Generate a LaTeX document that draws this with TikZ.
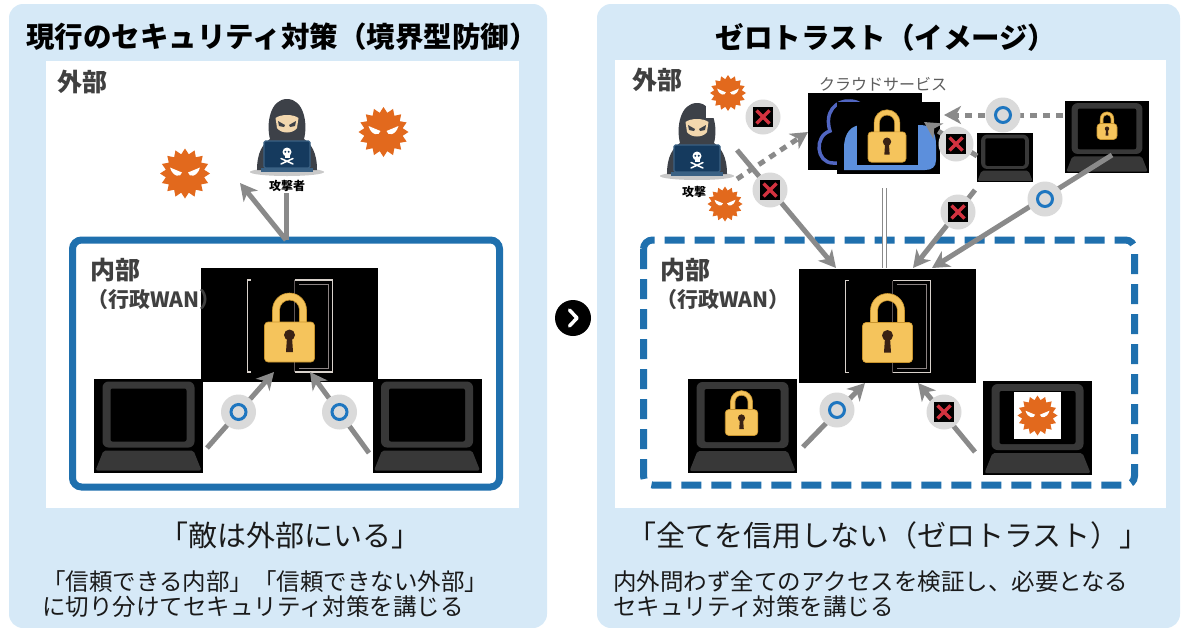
\documentclass[tikz,border=0pt]{standalone}
\usepackage{fontspec}
\newfontfamily\jp{Noto Sans CJK JP}
\usetikzlibrary{arrows.meta}

\definecolor{panelblue}{HTML}{D6E9F7}
\definecolor{boxblue}{HTML}{1F70AE}
\definecolor{arrowgray}{HTML}{8A8A8A}
\definecolor{badgegray}{HTML}{DADADA}
\definecolor{ringblue}{HTML}{1E76C0}
\definecolor{ngred}{HTML}{D3323F}
\definecolor{virusorange}{HTML}{E2691D}
\definecolor{lockyellow}{HTML}{F5C45C}
\definecolor{lockedge}{HTML}{C8942E}
\definecolor{keyhole}{HTML}{3A2214}
\definecolor{lapgray}{HTML}{383838}
\definecolor{hoodgray}{HTML}{3D4148}
\definecolor{skin}{HTML}{F2D7AE}
\definecolor{navy}{HTML}{153A5E}
\definecolor{navyedge}{HTML}{3A6184}
\definecolor{shadowgray}{HTML}{C9C9C9}
\definecolor{cloudblue}{HTML}{5C8FDC}
\definecolor{cloudline}{HTML}{5166C2}
\definecolor{labelgray}{HTML}{404040}
\definecolor{textblack}{HTML}{1A1A1A}
\definecolor{bracketlight}{HTML}{D9D2CC}
\definecolor{bracketdark}{HTML}{5E5656}
\definecolor{bracketmid}{HTML}{8C8484}

\tikzset{
  % notebook computer, 109 x 94
  laptop/.pic={
    \fill[black] (-54.5,-47) rectangle (54.5,47);
    \fill[lapgray, rounded corners=6pt] (-46,-44) rectangle (46,22);
    \fill[black, rounded corners=2pt] (-38,-37) rectangle (38,16);
    \fill[lapgray, rounded corners=2pt] (-45,25) -- (45,25) -- (53,45) -- (-53,45) -- cycle;
  },
  % padlock, origin at the centre of its body
  lockicon/.pic={
    \filldraw[fill=lockyellow, draw=lockedge, line width=0.6pt]
      (-17,-17) -- (-17,-32) arc[start angle=180, end angle=360, radius=17] -- (17,-17)
      -- (10,-17) -- (10,-32) arc[start angle=360, end angle=180, radius=10] -- (-10,-17) -- cycle;
    \filldraw[fill=lockyellow, draw=lockedge, line width=0.6pt, rounded corners=3.5pt]
      (-25,-20) rectangle (25,20);
    \fill[keyhole] (0,-7) circle[radius=5.5];
    \fill[keyhole] (-2.5,-5) -- (2.5,-5) -- (3.5,10) -- (-3.5,10) -- cycle;
  },
  % spiky malware
  virus/.pic={
    \fill[virusorange] plot[samples at={0,...,31}, variable=\k] ({\k*11.25}:{25-5.5*mod(\k,2)}) -- cycle;
    \fill[white] (-15,-6) -- (-3,-1) .. controls (-4,4) and (-12,4) .. cycle;
    \fill[white] (15,-6) -- (3,-1) .. controls (4,4) and (12,4) .. cycle;
  },
  % hooded attacker behind a laptop
  hacker/.pic={
    \fill[shadowgray] (0,16) ellipse[x radius=37, y radius=4];
    \fill[hoodgray] (-30,14) .. controls (-30,-4) and (-24,-12) .. (-17,-17)
      .. controls (-21,-32) and (-17,-57) .. (0,-57)
      .. controls (17,-57) and (21,-32) .. (17,-17)
      .. controls (24,-12) and (30,-4) .. (30,14) -- cycle;
    \fill[skin] (-11.5,-38) .. controls (-6,-42) and (6,-42) .. (11.5,-38) -- (10,-28)
      .. controls (6,-22) and (-6,-22) .. (-10,-28) -- cycle;
    \fill[hoodgray] (-9,-35) -- (-2,-31) -- (-3,-29) -- (-8,-30) -- cycle;
    \fill[hoodgray] (9,-35) -- (2,-31) -- (3,-29) -- (8,-30) -- cycle;
    \filldraw[fill=navy, draw=navyedge, line width=1.2pt, rounded corners=1.5pt] (-23,-15) rectangle (23,12);
    \fill[navyedge] (-26,12) rectangle (26,16);
    \fill[white] (0,-4) circle[radius=4.5];
    \fill[white] (-2.5,-2) rectangle (2.5,1.5);
    \fill[navy] (-1.7,-4.2) circle[radius=1.1] (1.7,-4.2) circle[radius=1.1];
    \draw[white, line width=1.5pt, line cap=round] (-6,2.5) -- (6,8) (-6,8) -- (6,2.5);
  },
  % gateway with padlock, 177 x 114
  lockserver/.pic={
    \fill[black] (-88.5,-57) rectangle (88.5,57);
    \draw[bracketlight, line width=1.3pt] (-39,-45) -- (-42,-45) -- (-42,47) -- (-39,47);
    \draw[bracketlight, line width=1.3pt] (5,-45) -- (43,-45) -- (43,47) -- (5,47);
    \draw[bracketdark, line width=1.3pt] (5,-45) -- (5,47);
    \draw[bracketmid, line width=0.9pt] (9,-41) -- (39,-41) -- (39,43) -- (9,43);
    \pic at (0,17) {lockicon};
  },
  link/.style={draw=arrowgray, line width=5pt},
  linkarrow/.style={link, -{Stealth[length=17pt, width=18pt, inset=5pt]}},
  dotlink/.style={linkarrow, dash pattern=on 7pt off 6pt},
  twinlink/.style={draw=arrowgray, line width=1.5pt, double=white, double distance=2.5pt},
  okbadge/.style={circle, fill=badgegray, minimum size=35pt, inner sep=0pt,
    path picture={\draw[ringblue, line width=3pt] (path picture bounding box.center) circle[radius=7.5pt];}},
  ngbadge/.style={circle, fill=badgegray, minimum size=35pt, inner sep=0pt,
    path picture={\begin{scope}[shift={(path picture bounding box.center)}]
      \fill[black] (-10,-10) rectangle (10,10);
      \draw[ngred, line width=3.5pt] (-6.5,-6.5) -- (6.5,6.5) (-6.5,6.5) -- (6.5,-6.5);
    \end{scope}}},
  nextbtn/.style={circle, fill=black, minimum size=36pt, inner sep=0pt,
    path picture={\begin{scope}[shift={(path picture bounding box.center)}]
      \draw[white, line width=3.5pt, line cap=round, line join=round] (-3.5,-8) -- (4,0) -- (-3.5,8);
    \end{scope}}},
  title/.style={font={\jp\bfseries\fontsize{28.5}{32}\selectfont}, text=black},
  zone/.style={font={\jp\bfseries\fontsize{25}{28}\selectfont}, text=labelgray, anchor=west, inner sep=0pt},
  wan/.style={font={\jp\bfseries\fontsize{21}{24}\selectfont}, text=labelgray, anchor=west, inner sep=0pt},
  motto/.style={font={\jp\fontsize{29}{32}\selectfont}, text=textblack},
  note/.style={font={\jp\fontsize{23.5}{25}\selectfont}, text=textblack, anchor=west, inner sep=0pt},
  tinylabel/.style={font={\jp\bfseries\fontsize{12}{14}\selectfont}, text=black, inner sep=0pt},
  cloudlabel/.style={font={\jp\fontsize{16}{18}\selectfont}, text=labelgray!85, inner sep=0pt},
}

\begin{document}
\begin{tikzpicture}[x=1pt, y=-1pt]
\useasboundingbox (0,0) rectangle (1191,627);

% ---------- panels ----------
\fill[panelblue, rounded corners=14pt] (9,4) rectangle (547,628);
\fill[panelblue, rounded corners=14pt] (597,4) rectangle (1180,628);
\fill[white] (46,61) rectangle (519,508);
\fill[white] (615,60) rectangle (1166,508);

\node[title] (titleL) at (282,37) {現行のセキュリティ対策（境界型防御）};
\node[title] (titleR) at (886,37) {ゼロトラスト（イメージ）};

% ---------- perimeter model ----------
\draw[boxblue, line width=7pt, rounded corners=9pt] (72.5,240) rectangle (499.5,487);

\coordinate (hackerL) at (287,156);
\pic at (hackerL) {hacker};
\node[tinylabel] (hackerLlabel) at (287,186) {攻撃者};
\coordinate (virusL1) at (185,173.5);
\coordinate (virusL2) at (383.5,132);
\pic at (virusL1) {virus};
\pic at (virusL2) {virus};

\coordinate (gateL) at (289.5,325);
\pic at (gateL) {lockserver};
\coordinate (pcL1) at (148.5,425.5);
\coordinate (pcL2) at (427,425.5);
\pic at (pcL1) {laptop};
\pic at (pcL2) {laptop};

\coordinate (attackL) at (286,193);
\coordinate (wallL) at (286,240);
\coordinate (bounceL) at (240,183);
\draw[link] (attackL) -- (wallL);
\draw[linkarrow] (wallL) -- (bounceL);

\coordinate (pcL1out) at (207,448);
\coordinate (gateLin1) at (274,372);
\coordinate (pcL2out) at (369,453);
\coordinate (gateLin2) at (310,372);
\draw[linkarrow] (pcL1out) -- (gateLin1);
\draw[linkarrow] (pcL2out) -- (gateLin2);
\node[okbadge] (okL1) at (238.5,412) {};
\node[okbadge] (okL2) at (339.5,412) {};

\node[zone] (outsideL) at (57,82) {外部};
\node[zone] (insideL) at (90,270) {内部};
\node[wan] (wanL) at (87,300) {（行政WAN）};

\node[motto] (mottoL) at (290,535) {「敵は外部にいる」};
\node[note] (noteL1) at (42,582) {「信頼できる内部」「信頼できない外部」};
\node[note] (noteL2) at (42,607) {に切り分けてセキュリティ対策を講じる};

% ---------- next ----------
\node[nextbtn] (next) at (573,318) {};

% ---------- zero trust ----------
\draw[boxblue, line width=7pt, rounded corners=9pt, dash pattern=on 20pt off 10pt]
  (643.5,240) rectangle (1134.5,485);

\coordinate (hackerR) at (697,160);
\pic at (hackerR) {hacker};
\node[tinylabel] (hackerRlabel) at (694,192) {攻撃};
\coordinate (virusR1) at (728,93);
\fill[white] (706,69) rectangle (750,118);
\pic[scale=0.72] at (virusR1) {virus};
\coordinate (virusR2) at (725,204);
\pic[scale=0.7] at (virusR2) {virus};

% cloud service
\node[cloudlabel] (cloudlabel) at (883,84) {クラウドサービス};
\fill[black] (808,93) rectangle (922,170);
\draw[cloudline, line width=3.5pt] (840,163) -- (833,163)
  .. controls (816,163) and (814,136) .. (830,131)
  .. controls (824,112) and (836,100) .. (850,101)
  .. controls (860,101) and (866,108) .. (868,115);
\fill[black] (837,102) rectangle (940,174);
\fill[cloudblue] (844,170) -- (844,148) .. controls (844,132) and (852,125) .. (862,125)
  -- (920,125) .. controls (932,125) and (936,133) .. (936,145) -- (936,160)
  .. controls (936,167) and (932,170) .. (925,170) -- cycle;
\fill[black] (857,103) rectangle (918,165);
\coordinate (cloudlock) at (887,147);
\pic[scale=0.76] at (cloudlock) {lockicon};

\coordinate (gateR) at (887.5,325.5);
\pic at (gateR) {lockserver};

\coordinate (pcR1) at (742.5,426);
\pic at (pcR1) {laptop};
\pic[scale=0.65] at (741.5,422.5) {lockicon};
\coordinate (pcR2) at (1037.5,428);
\pic at (pcR2) {laptop};
\fill[white] (1014,392) rectangle (1061,439);
\pic[scale=0.8] at (1037.5,415.5) {virus};
\coordinate (pcR3) at (1107,137);
\pic[scale=0.77] at (pcR3) {laptop};
\pic[scale=0.4] at (1107,131.5) {lockicon};
\coordinate (pcR4) at (1005,157.5);
\pic[scale=0.52] at (pcR4) {laptop};

% connections
\coordinate (hkRline) at (737,150);
\coordinate (gateRin1) at (836,268);
\coordinate (hkRdot) at (737,179);
\coordinate (cloudin1) at (808,132);
\coordinate (cloudbottom) at (884.5,188);
\coordinate (gatetop) at (884.5,268);
\coordinate (pcR4out) at (975,190);
\coordinate (gateRin2) at (913,268);
\coordinate (pcR3out) at (1112,155);
\coordinate (gateRin3) at (932,268);
\coordinate (pcR3dot) at (1063,115);
\coordinate (cloudin2) at (944,115);
\coordinate (pcR4dot) at (977,156);
\coordinate (cloudin3) at (924,122);
\coordinate (pcR1out) at (803,447);
\coordinate (gateRin4) at (865,383);
\coordinate (pcR2out) at (975,452);
\coordinate (gateRin5) at (918,383);

\draw[linkarrow] (hkRline) -- (gateRin1);
\draw[dotlink] (hkRdot) -- (cloudin1);
\draw[twinlink] (cloudbottom) -- (gatetop);
\draw[linkarrow] (pcR4out) -- (gateRin2);
\draw[linkarrow] (pcR3out) -- (gateRin3);
\draw[dotlink] (pcR3dot) -- (cloudin2);
\draw[dotlink] (pcR4dot) -- (cloudin3);
\draw[linkarrow] (pcR1out) -- (gateRin4);
\draw[linkarrow] (pcR2out) -- (gateRin5);

\node[ngbadge] (ngA) at (763,117) {};
\node[ngbadge] (ngB) at (770,190) {};
\node[okbadge] (okC) at (1003,115) {};
\node[ngbadge] (ngD) at (956,144) {};
\node[ngbadge] (ngE) at (958,212) {};
\node[okbadge] (okF) at (1045,199) {};
\node[okbadge] (okG) at (837,410) {};
\node[ngbadge] (ngH) at (944,412) {};

\node[zone] (outsideR) at (632,80) {外部};
\node[zone] (insideR) at (660,270) {内部};
\node[wan] (wanR) at (656,300) {（行政WAN）};

\node[motto] (mottoR) at (888,535) {「全てを信用しない（ゼロトラスト）」};
\node[note] (noteR1) at (613,582) {内外問わず全てのアクセスを検証し、必要となる};
\node[note] (noteR2) at (613,607) {セキュリティ対策を講じる};
\end{tikzpicture}
\end{document}
